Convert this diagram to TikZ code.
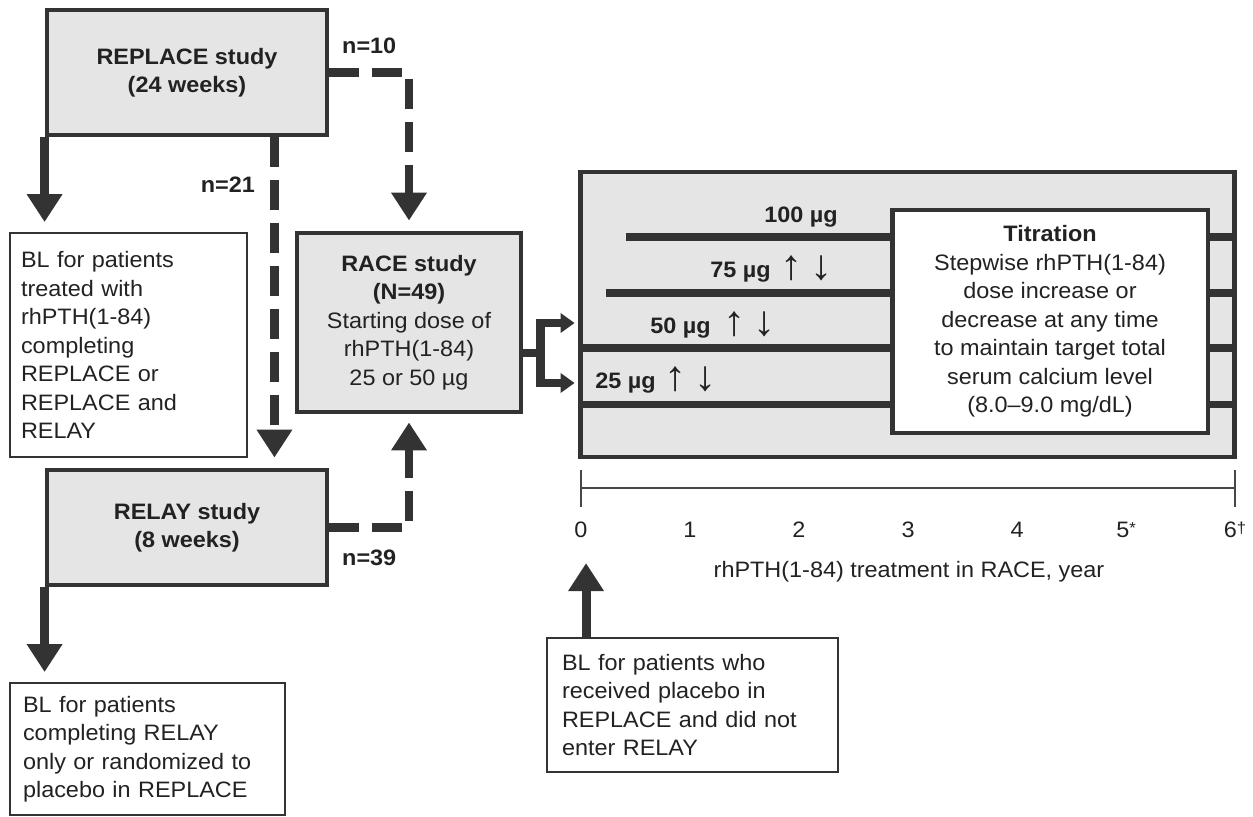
\documentclass[tikz,border=0pt]{standalone}
\usepackage{fontspec}
\setmainfont{Liberation Sans}[FakeStretch=1.05]
\usetikzlibrary{arrows.meta,positioning}
\definecolor{boxgray}{HTML}{E5E5E5}
\definecolor{linegray}{HTML}{333333}
\definecolor{txtgray}{HTML}{222222}
\newcommand{\figfont}{\fontsize{12.7}{16.2}\selectfont}

\begin{document}
\begin{tikzpicture}[x=0.02cm,y=-0.02cm]
    \tikzset{% This is the style settings for boxes and connectors
    study/.style={rectangle,draw=linegray,line width=2.8pt,fill=boxgray,text=txtgray,font=\figfont,align=center},
    note/.style={rectangle,draw=linegray,line width=1.1pt,fill=white,text=txtgray,font=\figfont,align=left,inner xsep=0.26cm},
    flow/.style={draw=linegray,line width=5.1pt,-{Triangle[length=0.56cm,width=0.68cm]}},
    flowdash/.style={flow,dash pattern=on 0.6cm off 0.26cm},
    fork/.style={draw=linegray,line width=5.1pt,-{Triangle[length=0.28cm,width=0.38cm]}},
    lbl/.style={text=txtgray,font=\figfont\bfseries,inner sep=0pt},
    updown/.style={text=txtgray,font=\fontsize{24}{24}\selectfont,inner sep=0pt},
    dosebar/.style={draw=linegray,line width=4pt},
    axisline/.style={draw=linegray!90,line width=1.1pt},
    }
    \useasboundingbox (0,0) rectangle (1253,816);

    % Nodes
    \node[study,minimum width=5.6cm,minimum height=2.5cm] (replace) at (187,72.5) {\textbf{REPLACE study}\\\textbf{(24 weeks)}};
    \node[study,minimum width=5.6cm,minimum height=2.3cm] (relay) at (187,527.5) {\textbf{RELAY study}\\\textbf{(8 weeks)}};
    \node[study,minimum width=4.48cm,minimum height=3.58cm] (race) at (409,322.5) {\textbf{RACE study}\\\textbf{(N=49)}\\Starting dose of\\rhPTH(1-84)\\25 or 50 µg};
    \node[note,text width=4.3cm,minimum height=4.48cm,inner xsep=0.22cm] (bl1) at (128.5,345) {BL for patients\\treated with\\rhPTH(1-84)\\completing\\REPLACE or\\REPLACE and\\RELAY};
    \node[note,text width=4.98cm,minimum height=2.64cm] (bl2) at (147.5,749) {BL for patients\\completing RELAY\\only or randomized to\\placebo in REPLACE};
    \node[note,text width=5.22cm,minimum height=2.68cm,inner xsep=0.3cm] (bl3) at (692.5,705) {BL for patients who\\received placebo in\\REPLACE and did not\\enter RELAY};

    % Dose panel
    \node[study,minimum width=13.1cm,minimum height=5.7cm] (panel) at (907.5,314.5) {};
    \foreach \y/\xs in {237/626, 293/606, 348/580, 404/580}
        \draw[dosebar] (\xs,\y) -- (1235,\y);
    \node[study,fill=white,minimum width=6.32cm,minimum height=4.46cm] (titration) at (1050,321.5) {\textbf{Titration}\\Stepwise rhPTH(1-84)\\dose increase or\\decrease at any time\\to maintain target total\\serum calcium level\\(8.0--9.0 mg/dL)};
    \node[lbl,anchor=east] (d100) at (838,217) {100 µg};
    \node[lbl,anchor=west] (d75) at (710,272) {75 µg};
    \node[lbl,anchor=west] (d50) at (650,328) {50 µg};
    \node[lbl,anchor=west] (d25) at (595,383) {25 µg};
    \foreach \n/\x/\y in {a/792/268, b/735/324, c/676/379} {
        \node[updown] (up\n) at (\x,\y) {↑};
        \node[updown] (dn\n) at (\x+30,\y) {↓};
    }

    % Time axis
    \draw[axisline] (581,488) -- (1235,488);
    \draw[axisline] (581,470) -- (581,507);
    \draw[axisline] (1235,470) -- (1235,507);
    \foreach \i/\t in {0/0, 1/1, 2/2, 3/3, 4/4, 5/5\raisebox{2.6pt}{\small *}, 6/6\raisebox{2.4pt}{\small †}}
        \node[text=txtgray,font=\figfont] (t\i) at ({581+\i*109},530) {\t};
    \node[text=txtgray,font=\figfont] (axtitle) at (909,572) {rhPTH(1-84) treatment in RACE, year};

    %Edges
    \draw[flow,shorten >=0.2cm] (replace.south west) -- (replace.south west |- bl1.north);
    \draw[flow,shorten >=0.2cm] (relay.south west) -- (relay.south west |- bl2.north);
    \draw[flowdash,shorten >=0.2cm] (replace.east) -| node[lbl,pos=0.25,yshift=0.54cm] (n10) {n=10} (race.north);
    \draw[flowdash,shorten >=0.2cm] ([xshift=-1.1cm]replace.south east) -- node[lbl,pos=0.143,left=0.3cm] (n21) {n=21} ([xshift=-1.1cm]relay.north east);
    \draw[flowdash,shorten >=0.16cm] (relay.east) -| node[lbl,pos=0.25,yshift=-0.61cm] (n39) {n=39} (race.south);
    \draw[draw=linegray,line width=5.1pt] ([yshift=-0.61cm]race.east) -- ++(0.34cm,0) coordinate (fork);
    \draw[fork,shorten >=0.06cm] (fork) |- ([yshift=-0.17cm]panel.west);
    \draw[fork,shorten >=0.06cm] (fork) |- ([yshift=-1.37cm]panel.west);
    \draw[flow,shorten >=0.38cm] ([xshift=0.8cm]bl3.north west) -- ([xshift=0.8cm]bl3.north west |- t0.south);
\end{tikzpicture}
\end{document}
